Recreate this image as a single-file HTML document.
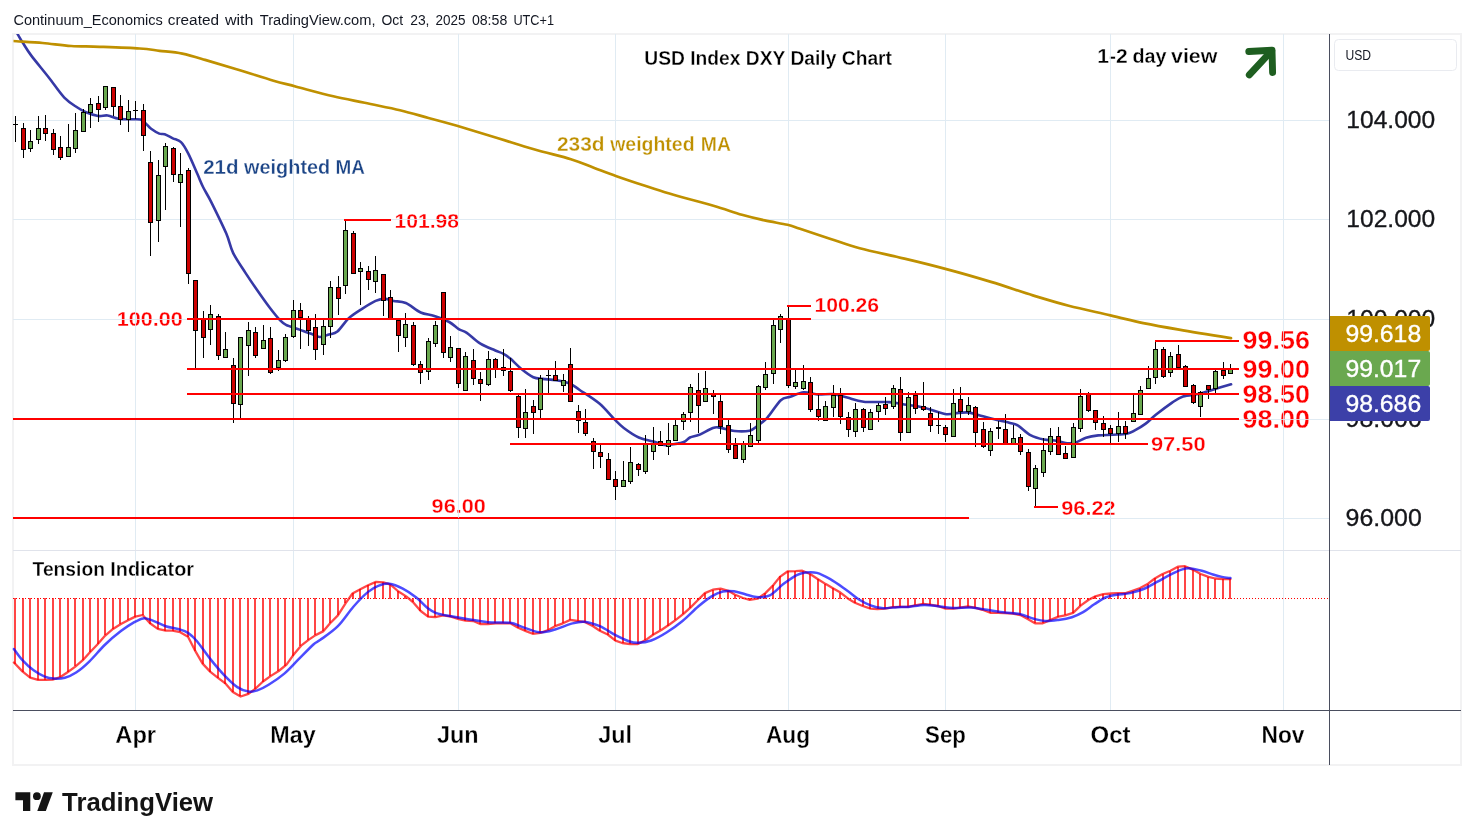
<!DOCTYPE html>
<html><head><meta charset="utf-8"><title>USD Index DXY Daily Chart</title>
<style>
html,body{margin:0;padding:0;background:#fff;}
body{width:1474px;height:840px;overflow:hidden;font-family:"Liberation Sans",sans-serif;}
svg{display:block}
svg text{font-family:"Liberation Sans",sans-serif;}
</style></head><body>
<svg width="1474" height="840" viewBox="0 0 1474 840">
<rect width="1474" height="840" fill="#ffffff"/>
<rect x="13" y="34" width="1448" height="731" fill="none" stroke="#f2f2f3" stroke-width="2" shape-rendering="crispEdges"/>
<g shape-rendering="crispEdges" fill="#e0ebf3">
<rect x="135" y="34" width="1" height="516"/>
<rect x="135" y="551" width="1" height="159"/>
<rect x="293" y="34" width="1" height="516"/>
<rect x="293" y="551" width="1" height="159"/>
<rect x="458" y="34" width="1" height="516"/>
<rect x="458" y="551" width="1" height="159"/>
<rect x="615" y="34" width="1" height="516"/>
<rect x="615" y="551" width="1" height="159"/>
<rect x="788" y="34" width="1" height="516"/>
<rect x="788" y="551" width="1" height="159"/>
<rect x="945" y="34" width="1" height="516"/>
<rect x="945" y="551" width="1" height="159"/>
<rect x="1110" y="34" width="1" height="516"/>
<rect x="1110" y="551" width="1" height="159"/>
<rect x="1283" y="34" width="1" height="516"/>
<rect x="1283" y="551" width="1" height="159"/>
<rect x="13" y="120" width="1316" height="1"/>
<rect x="13" y="219" width="1316" height="1"/>
<rect x="13" y="319" width="1316" height="1"/>
<rect x="13" y="419" width="1316" height="1"/>
<rect x="13" y="518" width="1316" height="1"/>
</g>
<rect x="13" y="550" width="1448" height="1" fill="#e0e3eb" shape-rendering="crispEdges"/>
<text x="1346.3" y="127.9" font-size="24" font-weight="normal" fill="#15161a" text-anchor="start" textLength="88.9" lengthAdjust="spacingAndGlyphs" stroke="#15161a" stroke-width="0.3">104.000</text>
<text x="1346.3" y="226.9" font-size="24" font-weight="normal" fill="#15161a" text-anchor="start" textLength="88.9" lengthAdjust="spacingAndGlyphs" stroke="#15161a" stroke-width="0.3">102.000</text>
<text x="1346.3" y="326.9" font-size="24" font-weight="normal" fill="#15161a" text-anchor="start" textLength="88.9" lengthAdjust="spacingAndGlyphs" stroke="#15161a" stroke-width="0.3">100.000</text>
<text x="1345.6" y="426.9" font-size="24" font-weight="normal" fill="#15161a" text-anchor="start" textLength="76.2" lengthAdjust="spacingAndGlyphs" stroke="#15161a" stroke-width="0.3">98.000</text>
<text x="1345.6" y="525.9" font-size="24" font-weight="normal" fill="#15161a" text-anchor="start" textLength="76.2" lengthAdjust="spacingAndGlyphs" stroke="#15161a" stroke-width="0.3">96.000</text>
<clipPath id="cp2"><rect x="13.5" y="34" width="1316" height="516"/></clipPath>
<clipPath id="cp"><rect x="13" y="34" width="1316" height="516"/></clipPath>
<path d="M17.7,34.3C18.6,35.7 20.5,39.2 22.8,42.8C25.1,46.3 27.0,49.9 31.3,55.6C35.6,61.3 42.9,70.0 48.4,77.0C53.9,84.0 59.4,92.5 64.3,97.6C69.2,102.7 74.2,105.3 77.8,107.8C81.4,110.2 82.6,110.9 86.0,112.3C89.4,113.7 94.6,115.5 98.2,116.0C101.8,116.5 104.3,115.0 107.7,115.5C111.1,116.0 114.4,118.1 118.5,118.7C122.6,119.3 128.5,119.2 132.1,119.3C135.7,119.4 138.0,118.9 140.3,119.6C142.6,120.3 143.9,121.9 145.7,123.4C147.5,124.9 148.8,127.1 151.1,128.8C153.4,130.5 157.0,132.7 159.3,133.6C161.6,134.5 162.4,133.5 164.7,134.3C166.9,135.1 170.1,137.0 172.8,138.3C175.5,139.6 178.4,139.6 181.0,142.1C183.6,144.6 185.6,148.3 188.3,153.6C191.0,158.8 194.7,167.9 197.2,173.6C199.7,179.2 200.9,182.7 203.3,187.5C205.7,192.3 207.6,194.7 211.4,202.4C215.2,210.1 222.7,225.2 226.3,233.6C229.9,242.0 229.9,246.4 233.1,252.9C236.3,259.4 241.5,266.6 245.3,272.6C249.2,278.6 252.1,282.9 256.2,288.8C260.3,294.7 265.9,302.7 269.8,307.8C273.7,312.9 276.6,316.6 279.3,319.4C282.0,322.2 282.6,323.1 286.0,324.8C289.4,326.5 295.5,328.1 299.6,329.6C303.7,331.1 307.1,332.4 310.5,333.6C313.9,334.8 316.7,336.9 319.8,337.0C322.9,337.1 326.1,335.4 329.0,334.5C331.9,333.6 334.1,334.2 337.4,331.5C340.6,328.8 344.6,322.1 348.5,318.5C352.4,314.9 356.2,312.6 360.7,309.7C365.2,306.8 371.5,302.7 375.6,300.9C379.7,299.1 382.1,298.9 385.1,298.9C388.1,298.9 390.2,300.2 393.6,300.9C397.1,301.6 401.3,301.1 405.8,303.0C410.3,304.9 415.9,310.4 420.7,312.5C425.4,314.6 429.6,314.3 434.3,315.9C439.1,317.5 445.1,319.8 449.2,322.0C453.3,324.2 455.8,327.3 458.7,329.1C461.6,330.9 463.2,330.4 466.8,332.8C470.4,335.2 475.6,340.8 480.4,343.7C485.1,346.6 491.4,348.8 495.3,350.5C499.2,352.2 501.0,352.4 503.5,353.8C506.0,355.2 507.4,356.1 510.3,358.6C513.2,361.1 517.3,365.7 521.1,368.8C524.9,371.9 529.7,375.5 533.3,377.2C536.9,378.9 538.9,378.4 542.8,378.9C546.6,379.4 551.9,379.5 556.4,380.3C560.9,381.1 566.1,382.1 570.0,383.7C573.9,385.3 574.8,386.7 579.7,390.0C584.6,393.3 593.6,398.7 599.4,403.6C605.2,408.5 610.2,415.1 614.3,419.2C618.4,423.3 619.7,424.9 623.8,428.0C627.9,431.1 633.8,435.2 638.8,437.5C643.8,439.8 649.8,440.4 653.7,441.6C657.6,442.8 659.6,443.9 662.0,444.5C664.4,445.1 664.6,445.4 668.1,445.0C671.6,444.6 679.5,443.6 683.1,442.3C686.7,441.1 687.2,438.8 689.9,437.5C692.6,436.2 695.5,436.4 699.3,434.8C703.1,433.2 709.5,429.2 712.9,428.0C716.3,426.8 716.1,427.1 719.7,427.6C723.3,428.1 729.6,430.5 734.6,431.0C739.6,431.5 746.0,431.4 749.6,430.7C753.2,430.0 753.4,428.8 756.3,426.7C759.2,424.6 763.1,422.2 767.2,417.8C771.3,413.4 776.9,403.7 780.8,400.2C784.6,396.7 786.5,398.1 790.3,396.8C794.1,395.5 799.3,392.7 803.8,392.3C808.3,391.9 812.4,394.2 817.4,394.5C822.4,394.8 828.7,393.6 833.7,394.1C838.7,394.6 842.2,396.2 847.2,397.5C852.2,398.8 856.6,400.9 863.6,401.7C870.6,402.5 882.5,401.6 889.3,402.1C896.1,402.6 898.6,403.6 904.3,404.5C910.0,405.4 916.5,405.9 923.3,407.5C930.1,409.1 939.1,413.1 945.0,414.0C950.9,414.9 954.4,413.1 958.5,412.9C962.6,412.7 965.3,412.0 969.4,412.6C973.5,413.2 978.0,415.0 983.0,416.3C988.0,417.6 994.8,419.3 999.3,420.4C1003.8,421.5 1006.9,422.0 1010.0,422.9C1013.1,423.8 1014.7,423.6 1018.1,425.6C1021.5,427.6 1026.1,432.8 1030.4,435.1C1034.7,437.4 1039.8,438.7 1043.9,439.6C1048.0,440.5 1051.0,439.9 1054.8,440.5C1058.6,441.1 1063.6,442.8 1067.0,443.2C1070.4,443.6 1071.9,443.5 1075.1,442.6C1078.3,441.7 1082.2,439.0 1086.0,437.8C1089.8,436.6 1093.7,435.9 1098.2,435.4C1102.7,434.9 1108.3,435.0 1113.1,434.7C1117.8,434.4 1123.1,434.4 1126.7,433.7C1130.3,433.0 1131.6,432.1 1134.8,430.4C1138.0,428.7 1142.2,426.2 1145.7,423.6C1149.2,421.0 1151.4,418.3 1155.8,414.8C1160.2,411.3 1167.6,405.7 1172.1,402.6C1176.6,399.6 1178.5,398.0 1183.0,396.5C1187.5,395.0 1194.3,394.9 1199.3,393.8C1204.3,392.7 1207.5,391.3 1212.8,389.7C1218.1,388.1 1228.0,385.2 1231.1,384.3" fill="none" stroke="#3639a6" stroke-width="2.6" stroke-linecap="round" stroke-linejoin="round" clip-path="url(#cp)"/>
<path d="M12.8,41.0C17.8,41.4 33.0,42.2 42.7,43.0C52.4,43.9 61.7,45.3 71.2,46.0C80.7,46.6 88.3,46.3 99.7,46.8C111.1,47.2 129.6,47.8 139.6,48.5C149.6,49.1 152.4,49.9 159.5,50.8C166.6,51.6 174.7,52.1 182.3,53.6C189.9,55.2 196.1,57.2 205.1,59.9C214.1,62.5 225.1,65.8 236.5,69.2C247.9,72.7 263.5,77.8 273.5,80.7C283.5,83.6 286.3,84.0 296.3,86.7C306.3,89.3 321.9,93.6 333.3,96.3C344.7,99.0 353.6,100.5 364.7,102.8C375.8,105.2 389.4,107.7 400.0,110.2C410.6,112.8 419.0,115.4 428.5,118.0C438.0,120.5 445.1,122.4 457.0,125.8C468.9,129.3 486.9,134.8 499.7,138.8C512.5,142.7 522.0,145.8 533.9,149.2C545.8,152.7 560.9,156.2 570.9,159.2C580.9,162.3 586.1,164.9 593.7,167.8C601.3,170.6 608.0,173.2 616.5,176.2C625.0,179.2 635.5,182.7 645.0,185.8C654.5,188.8 662.1,191.5 673.5,194.8C684.9,198.2 702.0,202.3 713.4,205.7C724.8,209.0 733.3,212.3 741.9,214.8C750.5,217.2 757.1,218.8 764.7,220.4C772.3,222.1 781.6,223.4 787.5,224.8C793.4,226.1 792.9,226.4 800.0,228.8C807.1,231.1 819.9,235.4 829.9,238.7C839.9,241.9 847.3,244.8 859.7,248.2C872.1,251.5 890.1,255.1 904.5,258.6C918.9,262.0 931.9,265.2 946.3,269.1C960.7,272.9 976.6,277.5 991.0,281.9C1005.4,286.2 1019.8,291.4 1032.8,295.4C1045.8,299.3 1055.8,302.4 1068.7,305.8C1081.6,309.1 1098.0,312.5 1110.4,315.4C1122.8,318.2 1131.8,320.7 1143.3,323.1C1154.8,325.4 1164.5,327.1 1179.1,329.6C1193.7,332.2 1222.3,336.8 1231.0,338.2" fill="none" stroke="#bf9000" stroke-width="2.7" stroke-linecap="round" stroke-linejoin="round" clip-path="url(#cp2)"/>
<g shape-rendering="crispEdges">
<rect x="15" y="116" width="1" height="26" fill="#000"/>
<rect x="13" y="124" width="5" height="1" fill="#000"/>
<rect x="23" y="123" width="1" height="35" fill="#000"/>
<rect x="21" y="128" width="5" height="22" fill="#000"/>
<rect x="22" y="129" width="3" height="20" fill="#cc0000"/>
<rect x="30" y="130" width="1" height="22" fill="#000"/>
<rect x="28" y="141" width="5" height="8" fill="#000"/>
<rect x="29" y="142" width="3" height="6" fill="#6aa84f"/>
<rect x="38" y="116" width="1" height="28" fill="#000"/>
<rect x="36" y="128" width="5" height="12" fill="#000"/>
<rect x="37" y="129" width="3" height="10" fill="#6aa84f"/>
<rect x="45" y="115" width="1" height="26" fill="#000"/>
<rect x="43" y="128" width="5" height="6" fill="#000"/>
<rect x="44" y="129" width="3" height="4" fill="#cc0000"/>
<rect x="53" y="129" width="1" height="26" fill="#000"/>
<rect x="51" y="133" width="5" height="17" fill="#000"/>
<rect x="52" y="134" width="3" height="15" fill="#cc0000"/>
<rect x="60" y="136" width="1" height="24" fill="#000"/>
<rect x="58" y="147" width="5" height="11" fill="#000"/>
<rect x="59" y="148" width="3" height="9" fill="#cc0000"/>
<rect x="68" y="124" width="1" height="33" fill="#000"/>
<rect x="66" y="147" width="5" height="10" fill="#000"/>
<rect x="67" y="148" width="3" height="8" fill="#6aa84f"/>
<rect x="75" y="113" width="1" height="40" fill="#000"/>
<rect x="73" y="130" width="5" height="19" fill="#000"/>
<rect x="74" y="131" width="3" height="17" fill="#6aa84f"/>
<rect x="83" y="109" width="1" height="23" fill="#000"/>
<rect x="81" y="112" width="5" height="20" fill="#000"/>
<rect x="82" y="113" width="3" height="18" fill="#6aa84f"/>
<rect x="90" y="98" width="1" height="30" fill="#000"/>
<rect x="88" y="104" width="5" height="9" fill="#000"/>
<rect x="89" y="105" width="3" height="7" fill="#6aa84f"/>
<rect x="98" y="96" width="1" height="26" fill="#000"/>
<rect x="96" y="103" width="5" height="7" fill="#000"/>
<rect x="97" y="104" width="3" height="5" fill="#cc0000"/>
<rect x="105" y="86" width="1" height="24" fill="#000"/>
<rect x="103" y="86" width="5" height="22" fill="#000"/>
<rect x="104" y="87" width="3" height="20" fill="#6aa84f"/>
<rect x="113" y="87" width="1" height="29" fill="#000"/>
<rect x="111" y="87" width="5" height="20" fill="#000"/>
<rect x="112" y="88" width="3" height="18" fill="#cc0000"/>
<rect x="120" y="95" width="1" height="30" fill="#000"/>
<rect x="118" y="106" width="5" height="14" fill="#000"/>
<rect x="119" y="107" width="3" height="12" fill="#cc0000"/>
<rect x="128" y="100" width="1" height="32" fill="#000"/>
<rect x="126" y="111" width="5" height="9" fill="#000"/>
<rect x="127" y="112" width="3" height="7" fill="#6aa84f"/>
<rect x="135" y="101" width="1" height="18" fill="#000"/>
<rect x="133" y="110" width="5" height="1" fill="#000"/>
<rect x="143" y="104" width="1" height="47" fill="#000"/>
<rect x="141" y="110" width="5" height="26" fill="#000"/>
<rect x="142" y="111" width="3" height="24" fill="#cc0000"/>
<rect x="150" y="151" width="1" height="105" fill="#000"/>
<rect x="148" y="162" width="5" height="61" fill="#000"/>
<rect x="149" y="163" width="3" height="59" fill="#cc0000"/>
<rect x="158" y="160" width="1" height="82" fill="#000"/>
<rect x="156" y="175" width="5" height="46" fill="#000"/>
<rect x="157" y="176" width="3" height="44" fill="#6aa84f"/>
<rect x="165" y="143" width="1" height="67" fill="#000"/>
<rect x="163" y="146" width="5" height="21" fill="#000"/>
<rect x="164" y="147" width="3" height="19" fill="#6aa84f"/>
<rect x="173" y="147" width="1" height="35" fill="#000"/>
<rect x="171" y="148" width="5" height="27" fill="#000"/>
<rect x="172" y="149" width="3" height="25" fill="#cc0000"/>
<rect x="180" y="153" width="1" height="74" fill="#000"/>
<rect x="178" y="174" width="5" height="9" fill="#000"/>
<rect x="179" y="175" width="3" height="7" fill="#6aa84f"/>
<rect x="188" y="168" width="1" height="116" fill="#000"/>
<rect x="186" y="170" width="5" height="104" fill="#000"/>
<rect x="187" y="171" width="3" height="102" fill="#cc0000"/>
<rect x="195" y="280" width="1" height="89" fill="#000"/>
<rect x="193" y="280" width="5" height="51" fill="#000"/>
<rect x="194" y="281" width="3" height="49" fill="#cc0000"/>
<rect x="203" y="311" width="1" height="47" fill="#000"/>
<rect x="201" y="318" width="5" height="20" fill="#000"/>
<rect x="202" y="319" width="3" height="18" fill="#cc0000"/>
<rect x="210" y="305" width="1" height="40" fill="#000"/>
<rect x="208" y="314" width="5" height="16" fill="#000"/>
<rect x="209" y="315" width="3" height="14" fill="#6aa84f"/>
<rect x="218" y="314" width="1" height="46" fill="#000"/>
<rect x="216" y="316" width="5" height="40" fill="#000"/>
<rect x="217" y="317" width="3" height="38" fill="#cc0000"/>
<rect x="225" y="332" width="1" height="26" fill="#000"/>
<rect x="223" y="349" width="5" height="9" fill="#000"/>
<rect x="224" y="350" width="3" height="7" fill="#6aa84f"/>
<rect x="233" y="358" width="1" height="65" fill="#000"/>
<rect x="231" y="365" width="5" height="39" fill="#000"/>
<rect x="232" y="366" width="3" height="37" fill="#cc0000"/>
<rect x="240" y="337" width="1" height="81" fill="#000"/>
<rect x="238" y="337" width="5" height="68" fill="#000"/>
<rect x="239" y="338" width="3" height="66" fill="#6aa84f"/>
<rect x="248" y="322" width="1" height="54" fill="#000"/>
<rect x="246" y="330" width="5" height="16" fill="#000"/>
<rect x="247" y="331" width="3" height="14" fill="#6aa84f"/>
<rect x="255" y="327" width="1" height="31" fill="#000"/>
<rect x="253" y="332" width="5" height="24" fill="#000"/>
<rect x="254" y="333" width="3" height="22" fill="#cc0000"/>
<rect x="263" y="325" width="1" height="24" fill="#000"/>
<rect x="261" y="340" width="5" height="9" fill="#000"/>
<rect x="262" y="341" width="3" height="7" fill="#6aa84f"/>
<rect x="270" y="327" width="1" height="47" fill="#000"/>
<rect x="268" y="338" width="5" height="35" fill="#000"/>
<rect x="269" y="339" width="3" height="33" fill="#cc0000"/>
<rect x="278" y="350" width="1" height="21" fill="#000"/>
<rect x="276" y="360" width="5" height="8" fill="#000"/>
<rect x="277" y="361" width="3" height="6" fill="#6aa84f"/>
<rect x="285" y="334" width="1" height="28" fill="#000"/>
<rect x="283" y="337" width="5" height="24" fill="#000"/>
<rect x="284" y="338" width="3" height="22" fill="#6aa84f"/>
<rect x="293" y="300" width="1" height="38" fill="#000"/>
<rect x="291" y="310" width="5" height="27" fill="#000"/>
<rect x="292" y="311" width="3" height="25" fill="#6aa84f"/>
<rect x="300" y="303" width="1" height="46" fill="#000"/>
<rect x="298" y="310" width="5" height="8" fill="#000"/>
<rect x="299" y="311" width="3" height="6" fill="#cc0000"/>
<rect x="308" y="316" width="1" height="30" fill="#000"/>
<rect x="306" y="319" width="5" height="12" fill="#000"/>
<rect x="307" y="320" width="3" height="10" fill="#cc0000"/>
<rect x="315" y="314" width="1" height="46" fill="#000"/>
<rect x="313" y="327" width="5" height="23" fill="#000"/>
<rect x="314" y="328" width="3" height="21" fill="#cc0000"/>
<rect x="323" y="320" width="1" height="35" fill="#000"/>
<rect x="321" y="326" width="5" height="19" fill="#000"/>
<rect x="322" y="327" width="3" height="17" fill="#6aa84f"/>
<rect x="330" y="281" width="1" height="57" fill="#000"/>
<rect x="328" y="287" width="5" height="40" fill="#000"/>
<rect x="329" y="288" width="3" height="38" fill="#6aa84f"/>
<rect x="338" y="276" width="1" height="39" fill="#000"/>
<rect x="336" y="287" width="5" height="12" fill="#000"/>
<rect x="337" y="288" width="3" height="10" fill="#cc0000"/>
<rect x="345" y="220" width="1" height="74" fill="#000"/>
<rect x="343" y="230" width="5" height="56" fill="#000"/>
<rect x="344" y="231" width="3" height="54" fill="#6aa84f"/>
<rect x="353" y="231" width="1" height="43" fill="#000"/>
<rect x="351" y="233" width="5" height="41" fill="#000"/>
<rect x="352" y="234" width="3" height="39" fill="#cc0000"/>
<rect x="360" y="262" width="1" height="43" fill="#000"/>
<rect x="358" y="268" width="5" height="4" fill="#000"/>
<rect x="359" y="269" width="3" height="2" fill="#6aa84f"/>
<rect x="368" y="266" width="1" height="24" fill="#000"/>
<rect x="366" y="271" width="5" height="9" fill="#000"/>
<rect x="367" y="272" width="3" height="7" fill="#cc0000"/>
<rect x="375" y="256" width="1" height="37" fill="#000"/>
<rect x="373" y="270" width="5" height="12" fill="#000"/>
<rect x="374" y="271" width="3" height="10" fill="#6aa84f"/>
<rect x="383" y="274" width="1" height="42" fill="#000"/>
<rect x="381" y="274" width="5" height="27" fill="#000"/>
<rect x="382" y="275" width="3" height="25" fill="#cc0000"/>
<rect x="390" y="290" width="1" height="29" fill="#000"/>
<rect x="388" y="297" width="5" height="22" fill="#000"/>
<rect x="389" y="298" width="3" height="20" fill="#cc0000"/>
<rect x="398" y="319" width="1" height="33" fill="#000"/>
<rect x="396" y="320" width="5" height="16" fill="#000"/>
<rect x="397" y="321" width="3" height="14" fill="#cc0000"/>
<rect x="405" y="313" width="1" height="34" fill="#000"/>
<rect x="403" y="324" width="5" height="14" fill="#000"/>
<rect x="404" y="325" width="3" height="12" fill="#6aa84f"/>
<rect x="413" y="322" width="1" height="44" fill="#000"/>
<rect x="411" y="325" width="5" height="40" fill="#000"/>
<rect x="412" y="326" width="3" height="38" fill="#cc0000"/>
<rect x="420" y="361" width="1" height="23" fill="#000"/>
<rect x="418" y="364" width="5" height="9" fill="#000"/>
<rect x="419" y="365" width="3" height="7" fill="#cc0000"/>
<rect x="428" y="338" width="1" height="42" fill="#000"/>
<rect x="426" y="341" width="5" height="31" fill="#000"/>
<rect x="427" y="342" width="3" height="29" fill="#6aa84f"/>
<rect x="435" y="321" width="1" height="26" fill="#000"/>
<rect x="433" y="325" width="5" height="19" fill="#000"/>
<rect x="434" y="326" width="3" height="17" fill="#6aa84f"/>
<rect x="443" y="292" width="1" height="66" fill="#000"/>
<rect x="441" y="292" width="5" height="61" fill="#000"/>
<rect x="442" y="293" width="3" height="59" fill="#cc0000"/>
<rect x="450" y="336" width="1" height="26" fill="#000"/>
<rect x="448" y="347" width="5" height="11" fill="#000"/>
<rect x="449" y="348" width="3" height="9" fill="#6aa84f"/>
<rect x="458" y="348" width="1" height="40" fill="#000"/>
<rect x="456" y="348" width="5" height="36" fill="#000"/>
<rect x="457" y="349" width="3" height="34" fill="#cc0000"/>
<rect x="465" y="352" width="1" height="39" fill="#000"/>
<rect x="463" y="356" width="5" height="35" fill="#000"/>
<rect x="464" y="357" width="3" height="33" fill="#6aa84f"/>
<rect x="473" y="349" width="1" height="36" fill="#000"/>
<rect x="471" y="360" width="5" height="19" fill="#000"/>
<rect x="472" y="361" width="3" height="17" fill="#cc0000"/>
<rect x="480" y="372" width="1" height="29" fill="#000"/>
<rect x="478" y="379" width="5" height="5" fill="#000"/>
<rect x="479" y="380" width="3" height="3" fill="#cc0000"/>
<rect x="488" y="351" width="1" height="35" fill="#000"/>
<rect x="486" y="359" width="5" height="26" fill="#000"/>
<rect x="487" y="360" width="3" height="24" fill="#6aa84f"/>
<rect x="495" y="358" width="1" height="20" fill="#000"/>
<rect x="493" y="359" width="5" height="10" fill="#000"/>
<rect x="494" y="360" width="3" height="8" fill="#cc0000"/>
<rect x="503" y="349" width="1" height="27" fill="#000"/>
<rect x="501" y="367" width="5" height="4" fill="#000"/>
<rect x="502" y="368" width="3" height="2" fill="#cc0000"/>
<rect x="510" y="358" width="1" height="34" fill="#000"/>
<rect x="508" y="371" width="5" height="20" fill="#000"/>
<rect x="509" y="372" width="3" height="18" fill="#cc0000"/>
<rect x="518" y="395" width="1" height="43" fill="#000"/>
<rect x="516" y="396" width="5" height="32" fill="#000"/>
<rect x="517" y="397" width="3" height="30" fill="#cc0000"/>
<rect x="525" y="389" width="1" height="49" fill="#000"/>
<rect x="523" y="412" width="5" height="17" fill="#000"/>
<rect x="524" y="413" width="3" height="15" fill="#6aa84f"/>
<rect x="533" y="400" width="1" height="34" fill="#000"/>
<rect x="531" y="406" width="5" height="7" fill="#000"/>
<rect x="532" y="407" width="3" height="5" fill="#cc0000"/>
<rect x="540" y="375" width="1" height="43" fill="#000"/>
<rect x="538" y="378" width="5" height="32" fill="#000"/>
<rect x="539" y="379" width="3" height="30" fill="#6aa84f"/>
<rect x="548" y="370" width="1" height="23" fill="#000"/>
<rect x="546" y="375" width="5" height="1" fill="#000"/>
<rect x="555" y="361" width="1" height="20" fill="#000"/>
<rect x="553" y="375" width="5" height="6" fill="#000"/>
<rect x="554" y="376" width="3" height="4" fill="#cc0000"/>
<rect x="563" y="374" width="1" height="18" fill="#000"/>
<rect x="561" y="380" width="5" height="6" fill="#000"/>
<rect x="562" y="381" width="3" height="4" fill="#6aa84f"/>
<rect x="570" y="348" width="1" height="54" fill="#000"/>
<rect x="568" y="364" width="5" height="38" fill="#000"/>
<rect x="569" y="365" width="3" height="36" fill="#cc0000"/>
<rect x="578" y="405" width="1" height="28" fill="#000"/>
<rect x="576" y="411" width="5" height="10" fill="#000"/>
<rect x="577" y="412" width="3" height="8" fill="#cc0000"/>
<rect x="585" y="409" width="1" height="27" fill="#000"/>
<rect x="583" y="422" width="5" height="12" fill="#000"/>
<rect x="584" y="423" width="3" height="10" fill="#cc0000"/>
<rect x="593" y="438" width="1" height="31" fill="#000"/>
<rect x="591" y="441" width="5" height="11" fill="#000"/>
<rect x="592" y="442" width="3" height="9" fill="#cc0000"/>
<rect x="600" y="445" width="1" height="23" fill="#000"/>
<rect x="598" y="452" width="5" height="5" fill="#000"/>
<rect x="599" y="453" width="3" height="3" fill="#cc0000"/>
<rect x="608" y="453" width="1" height="27" fill="#000"/>
<rect x="606" y="459" width="5" height="21" fill="#000"/>
<rect x="607" y="460" width="3" height="19" fill="#cc0000"/>
<rect x="615" y="471" width="1" height="29" fill="#000"/>
<rect x="613" y="479" width="5" height="8" fill="#000"/>
<rect x="614" y="480" width="3" height="6" fill="#cc0000"/>
<rect x="623" y="461" width="1" height="26" fill="#000"/>
<rect x="621" y="480" width="5" height="7" fill="#000"/>
<rect x="622" y="481" width="3" height="5" fill="#6aa84f"/>
<rect x="630" y="447" width="1" height="37" fill="#000"/>
<rect x="628" y="462" width="5" height="20" fill="#000"/>
<rect x="629" y="463" width="3" height="18" fill="#6aa84f"/>
<rect x="638" y="463" width="1" height="13" fill="#000"/>
<rect x="636" y="464" width="5" height="6" fill="#000"/>
<rect x="637" y="465" width="3" height="4" fill="#cc0000"/>
<rect x="645" y="435" width="1" height="39" fill="#000"/>
<rect x="643" y="444" width="5" height="28" fill="#000"/>
<rect x="644" y="445" width="3" height="26" fill="#6aa84f"/>
<rect x="653" y="427" width="1" height="33" fill="#000"/>
<rect x="651" y="444" width="5" height="8" fill="#000"/>
<rect x="652" y="445" width="3" height="6" fill="#6aa84f"/>
<rect x="660" y="431" width="1" height="15" fill="#000"/>
<rect x="658" y="441" width="5" height="5" fill="#000"/>
<rect x="659" y="442" width="3" height="3" fill="#cc0000"/>
<rect x="668" y="423" width="1" height="32" fill="#000"/>
<rect x="666" y="440" width="5" height="7" fill="#000"/>
<rect x="667" y="441" width="3" height="5" fill="#6aa84f"/>
<rect x="675" y="420" width="1" height="21" fill="#000"/>
<rect x="673" y="425" width="5" height="16" fill="#000"/>
<rect x="674" y="426" width="3" height="14" fill="#6aa84f"/>
<rect x="683" y="412" width="1" height="18" fill="#000"/>
<rect x="681" y="414" width="5" height="8" fill="#000"/>
<rect x="682" y="415" width="3" height="6" fill="#6aa84f"/>
<rect x="690" y="384" width="1" height="38" fill="#000"/>
<rect x="688" y="387" width="5" height="26" fill="#000"/>
<rect x="689" y="388" width="3" height="24" fill="#6aa84f"/>
<rect x="698" y="373" width="1" height="60" fill="#000"/>
<rect x="696" y="390" width="5" height="16" fill="#000"/>
<rect x="697" y="391" width="3" height="14" fill="#cc0000"/>
<rect x="705" y="371" width="1" height="31" fill="#000"/>
<rect x="703" y="388" width="5" height="14" fill="#000"/>
<rect x="704" y="389" width="3" height="12" fill="#6aa84f"/>
<rect x="713" y="390" width="1" height="24" fill="#000"/>
<rect x="711" y="394" width="5" height="3" fill="#000"/>
<rect x="712" y="395" width="3" height="1" fill="#cc0000"/>
<rect x="720" y="395" width="1" height="39" fill="#000"/>
<rect x="718" y="401" width="5" height="26" fill="#000"/>
<rect x="719" y="402" width="3" height="24" fill="#cc0000"/>
<rect x="728" y="420" width="1" height="33" fill="#000"/>
<rect x="726" y="425" width="5" height="25" fill="#000"/>
<rect x="727" y="426" width="3" height="23" fill="#cc0000"/>
<rect x="735" y="438" width="1" height="21" fill="#000"/>
<rect x="733" y="445" width="5" height="14" fill="#000"/>
<rect x="734" y="446" width="3" height="12" fill="#cc0000"/>
<rect x="743" y="441" width="1" height="22" fill="#000"/>
<rect x="741" y="444" width="5" height="16" fill="#000"/>
<rect x="742" y="445" width="3" height="14" fill="#6aa84f"/>
<rect x="750" y="423" width="1" height="24" fill="#000"/>
<rect x="748" y="435" width="5" height="12" fill="#000"/>
<rect x="749" y="436" width="3" height="10" fill="#6aa84f"/>
<rect x="758" y="385" width="1" height="58" fill="#000"/>
<rect x="756" y="386" width="5" height="55" fill="#000"/>
<rect x="757" y="387" width="3" height="53" fill="#6aa84f"/>
<rect x="765" y="362" width="1" height="28" fill="#000"/>
<rect x="763" y="374" width="5" height="14" fill="#000"/>
<rect x="764" y="375" width="3" height="12" fill="#6aa84f"/>
<rect x="773" y="320" width="1" height="64" fill="#000"/>
<rect x="771" y="325" width="5" height="49" fill="#000"/>
<rect x="772" y="326" width="3" height="47" fill="#6aa84f"/>
<rect x="780" y="314" width="1" height="29" fill="#000"/>
<rect x="778" y="316" width="5" height="14" fill="#000"/>
<rect x="779" y="317" width="3" height="12" fill="#6aa84f"/>
<rect x="788" y="306" width="1" height="82" fill="#000"/>
<rect x="786" y="319" width="5" height="67" fill="#000"/>
<rect x="787" y="320" width="3" height="65" fill="#cc0000"/>
<rect x="795" y="369" width="1" height="20" fill="#000"/>
<rect x="793" y="382" width="5" height="5" fill="#000"/>
<rect x="794" y="383" width="3" height="3" fill="#6aa84f"/>
<rect x="803" y="365" width="1" height="25" fill="#000"/>
<rect x="801" y="381" width="5" height="8" fill="#000"/>
<rect x="802" y="382" width="3" height="6" fill="#6aa84f"/>
<rect x="810" y="377" width="1" height="35" fill="#000"/>
<rect x="808" y="382" width="5" height="28" fill="#000"/>
<rect x="809" y="383" width="3" height="26" fill="#cc0000"/>
<rect x="818" y="395" width="1" height="26" fill="#000"/>
<rect x="816" y="409" width="5" height="8" fill="#000"/>
<rect x="817" y="410" width="3" height="6" fill="#cc0000"/>
<rect x="825" y="401" width="1" height="20" fill="#000"/>
<rect x="823" y="406" width="5" height="15" fill="#000"/>
<rect x="824" y="407" width="3" height="13" fill="#6aa84f"/>
<rect x="833" y="385" width="1" height="32" fill="#000"/>
<rect x="831" y="395" width="5" height="13" fill="#000"/>
<rect x="832" y="396" width="3" height="11" fill="#6aa84f"/>
<rect x="840" y="388" width="1" height="36" fill="#000"/>
<rect x="838" y="395" width="5" height="22" fill="#000"/>
<rect x="839" y="396" width="3" height="20" fill="#cc0000"/>
<rect x="848" y="412" width="1" height="25" fill="#000"/>
<rect x="846" y="417" width="5" height="13" fill="#000"/>
<rect x="847" y="418" width="3" height="11" fill="#cc0000"/>
<rect x="855" y="403" width="1" height="34" fill="#000"/>
<rect x="853" y="409" width="5" height="23" fill="#000"/>
<rect x="854" y="410" width="3" height="21" fill="#6aa84f"/>
<rect x="863" y="408" width="1" height="24" fill="#000"/>
<rect x="861" y="409" width="5" height="19" fill="#000"/>
<rect x="862" y="410" width="3" height="17" fill="#cc0000"/>
<rect x="870" y="409" width="1" height="21" fill="#000"/>
<rect x="868" y="412" width="5" height="18" fill="#000"/>
<rect x="869" y="413" width="3" height="16" fill="#6aa84f"/>
<rect x="878" y="403" width="1" height="19" fill="#000"/>
<rect x="876" y="405" width="5" height="7" fill="#000"/>
<rect x="877" y="406" width="3" height="5" fill="#6aa84f"/>
<rect x="885" y="397" width="1" height="18" fill="#000"/>
<rect x="883" y="404" width="5" height="5" fill="#000"/>
<rect x="884" y="405" width="3" height="3" fill="#cc0000"/>
<rect x="893" y="385" width="1" height="24" fill="#000"/>
<rect x="891" y="388" width="5" height="19" fill="#000"/>
<rect x="892" y="389" width="3" height="17" fill="#6aa84f"/>
<rect x="900" y="377" width="1" height="64" fill="#000"/>
<rect x="898" y="389" width="5" height="44" fill="#000"/>
<rect x="899" y="390" width="3" height="42" fill="#cc0000"/>
<rect x="908" y="392" width="1" height="41" fill="#000"/>
<rect x="906" y="397" width="5" height="36" fill="#000"/>
<rect x="907" y="398" width="3" height="34" fill="#6aa84f"/>
<rect x="915" y="391" width="1" height="23" fill="#000"/>
<rect x="913" y="395" width="5" height="14" fill="#000"/>
<rect x="914" y="396" width="3" height="12" fill="#cc0000"/>
<rect x="923" y="382" width="1" height="29" fill="#000"/>
<rect x="921" y="406" width="5" height="4" fill="#000"/>
<rect x="922" y="407" width="3" height="2" fill="#cc0000"/>
<rect x="930" y="407" width="1" height="25" fill="#000"/>
<rect x="928" y="413" width="5" height="13" fill="#000"/>
<rect x="929" y="414" width="3" height="11" fill="#cc0000"/>
<rect x="938" y="412" width="1" height="22" fill="#000"/>
<rect x="936" y="425" width="5" height="1" fill="#000"/>
<rect x="945" y="425" width="1" height="17" fill="#000"/>
<rect x="943" y="427" width="5" height="8" fill="#000"/>
<rect x="944" y="428" width="3" height="6" fill="#cc0000"/>
<rect x="953" y="389" width="1" height="48" fill="#000"/>
<rect x="951" y="403" width="5" height="34" fill="#000"/>
<rect x="952" y="404" width="3" height="32" fill="#6aa84f"/>
<rect x="960" y="387" width="1" height="31" fill="#000"/>
<rect x="958" y="399" width="5" height="13" fill="#000"/>
<rect x="959" y="400" width="3" height="11" fill="#cc0000"/>
<rect x="968" y="397" width="1" height="18" fill="#000"/>
<rect x="966" y="405" width="5" height="7" fill="#000"/>
<rect x="967" y="406" width="3" height="5" fill="#6aa84f"/>
<rect x="975" y="406" width="1" height="41" fill="#000"/>
<rect x="973" y="407" width="5" height="26" fill="#000"/>
<rect x="974" y="408" width="3" height="24" fill="#cc0000"/>
<rect x="983" y="422" width="1" height="26" fill="#000"/>
<rect x="981" y="429" width="5" height="18" fill="#000"/>
<rect x="982" y="430" width="3" height="16" fill="#cc0000"/>
<rect x="990" y="428" width="1" height="28" fill="#000"/>
<rect x="988" y="431" width="5" height="20" fill="#000"/>
<rect x="989" y="432" width="3" height="18" fill="#6aa84f"/>
<rect x="998" y="421" width="1" height="18" fill="#000"/>
<rect x="996" y="427" width="5" height="2" fill="#000"/>
<rect x="1005" y="414" width="1" height="30" fill="#000"/>
<rect x="1003" y="429" width="5" height="15" fill="#000"/>
<rect x="1004" y="430" width="3" height="13" fill="#cc0000"/>
<rect x="1013" y="425" width="1" height="19" fill="#000"/>
<rect x="1011" y="438" width="5" height="6" fill="#000"/>
<rect x="1012" y="439" width="3" height="4" fill="#6aa84f"/>
<rect x="1020" y="434" width="1" height="21" fill="#000"/>
<rect x="1018" y="437" width="5" height="15" fill="#000"/>
<rect x="1019" y="438" width="3" height="13" fill="#cc0000"/>
<rect x="1028" y="449" width="1" height="42" fill="#000"/>
<rect x="1026" y="452" width="5" height="35" fill="#000"/>
<rect x="1027" y="453" width="3" height="33" fill="#cc0000"/>
<rect x="1035" y="465" width="1" height="42" fill="#000"/>
<rect x="1033" y="468" width="5" height="21" fill="#000"/>
<rect x="1034" y="469" width="3" height="19" fill="#6aa84f"/>
<rect x="1043" y="438" width="1" height="39" fill="#000"/>
<rect x="1041" y="450" width="5" height="23" fill="#000"/>
<rect x="1042" y="451" width="3" height="21" fill="#6aa84f"/>
<rect x="1050" y="428" width="1" height="27" fill="#000"/>
<rect x="1048" y="436" width="5" height="16" fill="#000"/>
<rect x="1049" y="437" width="3" height="14" fill="#6aa84f"/>
<rect x="1058" y="427" width="1" height="28" fill="#000"/>
<rect x="1056" y="436" width="5" height="19" fill="#000"/>
<rect x="1057" y="437" width="3" height="17" fill="#cc0000"/>
<rect x="1065" y="446" width="1" height="13" fill="#000"/>
<rect x="1063" y="453" width="5" height="6" fill="#000"/>
<rect x="1064" y="454" width="3" height="4" fill="#cc0000"/>
<rect x="1073" y="423" width="1" height="35" fill="#000"/>
<rect x="1071" y="427" width="5" height="31" fill="#000"/>
<rect x="1072" y="428" width="3" height="29" fill="#6aa84f"/>
<rect x="1080" y="389" width="1" height="43" fill="#000"/>
<rect x="1078" y="396" width="5" height="33" fill="#000"/>
<rect x="1079" y="397" width="3" height="31" fill="#6aa84f"/>
<rect x="1088" y="392" width="1" height="20" fill="#000"/>
<rect x="1086" y="394" width="5" height="17" fill="#000"/>
<rect x="1087" y="395" width="3" height="15" fill="#cc0000"/>
<rect x="1095" y="410" width="1" height="20" fill="#000"/>
<rect x="1093" y="410" width="5" height="13" fill="#000"/>
<rect x="1094" y="411" width="3" height="11" fill="#cc0000"/>
<rect x="1103" y="416" width="1" height="21" fill="#000"/>
<rect x="1101" y="423" width="5" height="7" fill="#000"/>
<rect x="1102" y="424" width="3" height="5" fill="#cc0000"/>
<rect x="1110" y="425" width="1" height="18" fill="#000"/>
<rect x="1108" y="428" width="5" height="6" fill="#000"/>
<rect x="1109" y="429" width="3" height="4" fill="#cc0000"/>
<rect x="1118" y="412" width="1" height="30" fill="#000"/>
<rect x="1116" y="426" width="5" height="8" fill="#000"/>
<rect x="1117" y="427" width="3" height="6" fill="#6aa84f"/>
<rect x="1125" y="421" width="1" height="18" fill="#000"/>
<rect x="1123" y="426" width="5" height="8" fill="#000"/>
<rect x="1124" y="427" width="3" height="6" fill="#cc0000"/>
<rect x="1133" y="395" width="1" height="27" fill="#000"/>
<rect x="1131" y="413" width="5" height="9" fill="#000"/>
<rect x="1132" y="414" width="3" height="7" fill="#6aa84f"/>
<rect x="1140" y="386" width="1" height="29" fill="#000"/>
<rect x="1138" y="390" width="5" height="25" fill="#000"/>
<rect x="1139" y="391" width="3" height="23" fill="#6aa84f"/>
<rect x="1148" y="366" width="1" height="23" fill="#000"/>
<rect x="1146" y="378" width="5" height="11" fill="#000"/>
<rect x="1147" y="379" width="3" height="9" fill="#6aa84f"/>
<rect x="1155" y="341" width="1" height="43" fill="#000"/>
<rect x="1153" y="349" width="5" height="29" fill="#000"/>
<rect x="1154" y="350" width="3" height="27" fill="#6aa84f"/>
<rect x="1163" y="347" width="1" height="31" fill="#000"/>
<rect x="1161" y="349" width="5" height="28" fill="#000"/>
<rect x="1162" y="350" width="3" height="26" fill="#cc0000"/>
<rect x="1170" y="352" width="1" height="25" fill="#000"/>
<rect x="1168" y="356" width="5" height="17" fill="#000"/>
<rect x="1169" y="357" width="3" height="15" fill="#6aa84f"/>
<rect x="1178" y="345" width="1" height="23" fill="#000"/>
<rect x="1176" y="354" width="5" height="14" fill="#000"/>
<rect x="1177" y="355" width="3" height="12" fill="#cc0000"/>
<rect x="1185" y="365" width="1" height="22" fill="#000"/>
<rect x="1183" y="366" width="5" height="21" fill="#000"/>
<rect x="1184" y="367" width="3" height="19" fill="#cc0000"/>
<rect x="1193" y="384" width="1" height="20" fill="#000"/>
<rect x="1191" y="385" width="5" height="18" fill="#000"/>
<rect x="1192" y="386" width="3" height="16" fill="#cc0000"/>
<rect x="1200" y="391" width="1" height="26" fill="#000"/>
<rect x="1198" y="392" width="5" height="15" fill="#000"/>
<rect x="1199" y="393" width="3" height="13" fill="#6aa84f"/>
<rect x="1208" y="385" width="1" height="14" fill="#000"/>
<rect x="1206" y="385" width="5" height="5" fill="#000"/>
<rect x="1207" y="386" width="3" height="3" fill="#cc0000"/>
<rect x="1215" y="370" width="1" height="23" fill="#000"/>
<rect x="1213" y="371" width="5" height="18" fill="#000"/>
<rect x="1214" y="372" width="3" height="16" fill="#6aa84f"/>
<rect x="1223" y="362" width="1" height="17" fill="#000"/>
<rect x="1221" y="370" width="5" height="6" fill="#000"/>
<rect x="1222" y="371" width="3" height="4" fill="#cc0000"/>
<rect x="1230" y="364" width="1" height="10" fill="#000"/>
<rect x="1228" y="369" width="5" height="5" fill="#000"/>
<rect x="1229" y="370" width="3" height="3" fill="#6aa84f"/>
</g>
<g fill="#ff0000" shape-rendering="crispEdges">
<rect x="187" y="318.0" width="624" height="2"/>
<rect x="187" y="368.0" width="1052" height="2"/>
<rect x="187" y="393.0" width="1052" height="2"/>
<rect x="13" y="418.0" width="1226" height="2"/>
<rect x="510" y="443.0" width="638" height="2"/>
<rect x="13" y="516.5" width="956" height="2"/>
<rect x="1155" y="339.5" width="84" height="2"/>
<rect x="344" y="219.0" width="47" height="2"/>
<rect x="787" y="304.5" width="24" height="2"/>
<rect x="1034" y="506.0" width="24" height="2"/>
</g>
<text x="394.4" y="228.4" font-size="20.3" font-weight="bold" fill="#ff0000" text-anchor="start" textLength="64.7" lengthAdjust="spacingAndGlyphs" stroke="#fff" stroke-width="0.3" paint-order="fill stroke">101.98</text>
<text x="814.4" y="311.6" font-size="20.3" font-weight="bold" fill="#ff0000" text-anchor="start" textLength="64.7" lengthAdjust="spacingAndGlyphs" stroke="#fff" stroke-width="0.3" paint-order="fill stroke">100.26</text>
<text x="116.8" y="325.9" font-size="20.3" font-weight="bold" fill="#ff0000" text-anchor="start" textLength="66.1" lengthAdjust="spacingAndGlyphs" stroke="#fff" stroke-width="0.3" paint-order="fill stroke">100.00</text>
<text x="431.6" y="512.9" font-size="20.3" font-weight="bold" fill="#ff0000" text-anchor="start" textLength="54.2" lengthAdjust="spacingAndGlyphs" stroke="#fff" stroke-width="0.3" paint-order="fill stroke">96.00</text>
<text x="1061.3" y="514.6" font-size="20.3" font-weight="bold" fill="#ff0000" text-anchor="start" textLength="54.3" lengthAdjust="spacingAndGlyphs" stroke="#fff" stroke-width="0.3" paint-order="fill stroke">96.22</text>
<text x="1150.9" y="451.0" font-size="20.3" font-weight="bold" fill="#ff0000" text-anchor="start" textLength="54.8" lengthAdjust="spacingAndGlyphs" stroke="#fff" stroke-width="0.3" paint-order="fill stroke">97.50</text>
<text x="1242.6" y="348.7" font-size="25.2" font-weight="bold" fill="#ff0000" text-anchor="start" textLength="67.3" lengthAdjust="spacingAndGlyphs" stroke="#fff" stroke-width="0.3" paint-order="fill stroke">99.56</text>
<text x="1242.6" y="377.8" font-size="25.2" font-weight="bold" fill="#ff0000" text-anchor="start" textLength="67.3" lengthAdjust="spacingAndGlyphs" stroke="#fff" stroke-width="0.3" paint-order="fill stroke">99.00</text>
<text x="1242.6" y="402.5" font-size="25.2" font-weight="bold" fill="#ff0000" text-anchor="start" textLength="67.3" lengthAdjust="spacingAndGlyphs" stroke="#fff" stroke-width="0.3" paint-order="fill stroke">98.50</text>
<text x="1242.6" y="427.8" font-size="25.2" font-weight="bold" fill="#ff0000" text-anchor="start" textLength="67.3" lengthAdjust="spacingAndGlyphs" stroke="#fff" stroke-width="0.3" paint-order="fill stroke">98.00</text>
<text y="174.0" font-size="20" font-weight="bold" fill="#1c4587" stroke="#fff" stroke-width="0.3" paint-order="fill stroke"><tspan x="203.2" textLength="35.4" lengthAdjust="spacingAndGlyphs">21d</tspan> <tspan x="244.1" textLength="86.1" lengthAdjust="spacingAndGlyphs">weighted</tspan> <tspan x="335.6" textLength="29.4" lengthAdjust="spacingAndGlyphs">MA</tspan></text>
<text y="150.6" font-size="20" font-weight="bold" fill="#bf9000" stroke="#fff" stroke-width="0.3" paint-order="fill stroke"><tspan x="557.0" textLength="47.6" lengthAdjust="spacingAndGlyphs">233d</tspan> <tspan x="610.2" textLength="84.4" lengthAdjust="spacingAndGlyphs">weighted</tspan> <tspan x="700.8" textLength="30.1" lengthAdjust="spacingAndGlyphs">MA</tspan></text>
<text x="644.3" y="65.4" font-size="20" font-weight="bold" fill="#000" text-anchor="start" textLength="247.7" lengthAdjust="spacingAndGlyphs" stroke="#fff" stroke-width="0.3" paint-order="fill stroke">USD Index DXY Daily Chart</text>
<text y="63.4" font-size="20" font-weight="bold" fill="#000" stroke="#fff" stroke-width="0.3" paint-order="fill stroke"><tspan x="1097.2" textLength="30.5" lengthAdjust="spacingAndGlyphs">1-2</tspan> <tspan x="1132.5" textLength="34.1" lengthAdjust="spacingAndGlyphs">day</tspan> <tspan x="1171.0" textLength="46.4" lengthAdjust="spacingAndGlyphs">view</tspan></text>
<g fill="none" stroke="#1e5e20" stroke-width="6.9" stroke-linecap="round" stroke-linejoin="round">
<path d="M1249.3,74.9 L1271.6,50.8"/>
<path d="M1248.8,51.5 L1272.0,50.2 L1272.6,72.5"/>
</g>
<line x1="13" y1="598.5" x2="1329" y2="598.5" stroke="#ff0000" stroke-width="1" stroke-dasharray="1 2" shape-rendering="crispEdges"/>
<g shape-rendering="crispEdges" fill="#ff0000" fill-opacity="0.73">
<rect x="14" y="598" width="2" height="66"/>
<rect x="22" y="598" width="2" height="74"/>
<rect x="29" y="598" width="2" height="80"/>
<rect x="37" y="598" width="2" height="82"/>
<rect x="44" y="598" width="2" height="82"/>
<rect x="52" y="598" width="2" height="82"/>
<rect x="59" y="598" width="2" height="79"/>
<rect x="67" y="598" width="2" height="74"/>
<rect x="74" y="598" width="2" height="68"/>
<rect x="82" y="598" width="2" height="62"/>
<rect x="89" y="598" width="2" height="54"/>
<rect x="97" y="598" width="2" height="46"/>
<rect x="104" y="598" width="2" height="37"/>
<rect x="112" y="598" width="2" height="31"/>
<rect x="119" y="598" width="2" height="26"/>
<rect x="127" y="598" width="2" height="22"/>
<rect x="134" y="598" width="2" height="19"/>
<rect x="142" y="598" width="2" height="17"/>
<rect x="149" y="598" width="2" height="26"/>
<rect x="157" y="598" width="2" height="31"/>
<rect x="164" y="598" width="2" height="33"/>
<rect x="172" y="598" width="2" height="33"/>
<rect x="179" y="598" width="2" height="34"/>
<rect x="187" y="598" width="2" height="39"/>
<rect x="194" y="598" width="2" height="53"/>
<rect x="202" y="598" width="2" height="66"/>
<rect x="209" y="598" width="2" height="74"/>
<rect x="217" y="598" width="2" height="80"/>
<rect x="224" y="598" width="2" height="86"/>
<rect x="232" y="598" width="2" height="94"/>
<rect x="239" y="598" width="2" height="98"/>
<rect x="247" y="598" width="2" height="96"/>
<rect x="254" y="598" width="2" height="91"/>
<rect x="262" y="598" width="2" height="84"/>
<rect x="269" y="598" width="2" height="78"/>
<rect x="277" y="598" width="2" height="73"/>
<rect x="284" y="598" width="2" height="68"/>
<rect x="292" y="598" width="2" height="58"/>
<rect x="299" y="598" width="2" height="48"/>
<rect x="307" y="598" width="2" height="42"/>
<rect x="314" y="598" width="2" height="37"/>
<rect x="322" y="598" width="2" height="33"/>
<rect x="329" y="598" width="2" height="25"/>
<rect x="337" y="598" width="2" height="17"/>
<rect x="344" y="598" width="2" height="5"/>
<rect x="352" y="593" width="2" height="6"/>
<rect x="359" y="589" width="2" height="10"/>
<rect x="367" y="585" width="2" height="14"/>
<rect x="374" y="582" width="2" height="17"/>
<rect x="382" y="582" width="2" height="17"/>
<rect x="389" y="585" width="2" height="14"/>
<rect x="397" y="591" width="2" height="8"/>
<rect x="404" y="596" width="2" height="3"/>
<rect x="412" y="598" width="2" height="4"/>
<rect x="419" y="598" width="2" height="13"/>
<rect x="427" y="598" width="2" height="19"/>
<rect x="434" y="598" width="2" height="19"/>
<rect x="442" y="598" width="2" height="17"/>
<rect x="449" y="598" width="2" height="19"/>
<rect x="457" y="598" width="2" height="21"/>
<rect x="464" y="598" width="2" height="23"/>
<rect x="472" y="598" width="2" height="23"/>
<rect x="479" y="598" width="2" height="26"/>
<rect x="487" y="598" width="2" height="26"/>
<rect x="494" y="598" width="2" height="25"/>
<rect x="502" y="598" width="2" height="25"/>
<rect x="509" y="598" width="2" height="25"/>
<rect x="517" y="598" width="2" height="30"/>
<rect x="524" y="598" width="2" height="33"/>
<rect x="532" y="598" width="2" height="36"/>
<rect x="539" y="598" width="2" height="35"/>
<rect x="547" y="598" width="2" height="32"/>
<rect x="554" y="598" width="2" height="28"/>
<rect x="562" y="598" width="2" height="25"/>
<rect x="569" y="598" width="2" height="22"/>
<rect x="577" y="598" width="2" height="23"/>
<rect x="584" y="598" width="2" height="24"/>
<rect x="592" y="598" width="2" height="28"/>
<rect x="599" y="598" width="2" height="33"/>
<rect x="607" y="598" width="2" height="37"/>
<rect x="614" y="598" width="2" height="43"/>
<rect x="622" y="598" width="2" height="45"/>
<rect x="629" y="598" width="2" height="46"/>
<rect x="637" y="598" width="2" height="46"/>
<rect x="644" y="598" width="2" height="42"/>
<rect x="652" y="598" width="2" height="37"/>
<rect x="659" y="598" width="2" height="32"/>
<rect x="667" y="598" width="2" height="28"/>
<rect x="674" y="598" width="2" height="22"/>
<rect x="682" y="598" width="2" height="16"/>
<rect x="689" y="598" width="2" height="10"/>
<rect x="697" y="598" width="2" height="2"/>
<rect x="704" y="593" width="2" height="6"/>
<rect x="712" y="590" width="2" height="9"/>
<rect x="719" y="589" width="2" height="10"/>
<rect x="727" y="591" width="2" height="8"/>
<rect x="734" y="595" width="2" height="4"/>
<rect x="742" y="598" width="2" height="1"/>
<rect x="749" y="598" width="2" height="2"/>
<rect x="757" y="598" width="2" height="1"/>
<rect x="764" y="593" width="2" height="6"/>
<rect x="772" y="585" width="2" height="14"/>
<rect x="779" y="576" width="2" height="23"/>
<rect x="787" y="571" width="2" height="28"/>
<rect x="794" y="571" width="2" height="28"/>
<rect x="802" y="571" width="2" height="28"/>
<rect x="809" y="574" width="2" height="25"/>
<rect x="817" y="579" width="2" height="20"/>
<rect x="824" y="584" width="2" height="15"/>
<rect x="832" y="588" width="2" height="11"/>
<rect x="839" y="593" width="2" height="6"/>
<rect x="847" y="598" width="2" height="1"/>
<rect x="854" y="598" width="2" height="5"/>
<rect x="862" y="598" width="2" height="8"/>
<rect x="869" y="598" width="2" height="11"/>
<rect x="877" y="598" width="2" height="11"/>
<rect x="884" y="598" width="2" height="11"/>
<rect x="892" y="598" width="2" height="9"/>
<rect x="899" y="598" width="2" height="9"/>
<rect x="907" y="598" width="2" height="9"/>
<rect x="914" y="598" width="2" height="7"/>
<rect x="922" y="598" width="2" height="6"/>
<rect x="929" y="598" width="2" height="7"/>
<rect x="937" y="598" width="2" height="8"/>
<rect x="944" y="598" width="2" height="11"/>
<rect x="952" y="598" width="2" height="11"/>
<rect x="959" y="598" width="2" height="10"/>
<rect x="967" y="598" width="2" height="9"/>
<rect x="974" y="598" width="2" height="10"/>
<rect x="982" y="598" width="2" height="12"/>
<rect x="989" y="598" width="2" height="15"/>
<rect x="997" y="598" width="2" height="15"/>
<rect x="1004" y="598" width="2" height="15"/>
<rect x="1012" y="598" width="2" height="16"/>
<rect x="1019" y="598" width="2" height="17"/>
<rect x="1027" y="598" width="2" height="21"/>
<rect x="1034" y="598" width="2" height="25"/>
<rect x="1042" y="598" width="2" height="25"/>
<rect x="1049" y="598" width="2" height="22"/>
<rect x="1057" y="598" width="2" height="19"/>
<rect x="1064" y="598" width="2" height="17"/>
<rect x="1072" y="598" width="2" height="15"/>
<rect x="1079" y="598" width="2" height="8"/>
<rect x="1087" y="598" width="2" height="2"/>
<rect x="1094" y="596" width="2" height="3"/>
<rect x="1102" y="594" width="2" height="5"/>
<rect x="1109" y="594" width="2" height="5"/>
<rect x="1117" y="593" width="2" height="6"/>
<rect x="1124" y="593" width="2" height="6"/>
<rect x="1132" y="591" width="2" height="8"/>
<rect x="1139" y="588" width="2" height="11"/>
<rect x="1147" y="584" width="2" height="15"/>
<rect x="1154" y="578" width="2" height="21"/>
<rect x="1162" y="574" width="2" height="25"/>
<rect x="1169" y="571" width="2" height="28"/>
<rect x="1177" y="567" width="2" height="32"/>
<rect x="1184" y="566" width="2" height="33"/>
<rect x="1192" y="570" width="2" height="29"/>
<rect x="1199" y="574" width="2" height="25"/>
<rect x="1207" y="577" width="2" height="22"/>
<rect x="1214" y="579" width="2" height="20"/>
<rect x="1222" y="579" width="2" height="20"/>
<rect x="1229" y="579" width="2" height="20"/>
</g>
<path d="M13.9,662.5L22.4,671.4L30.2,677.7L38.0,679.9L45.9,679.9L52.6,679.7L60.4,677.0L67.2,672.5L75.0,666.9L82.8,660.2L89.5,652.8L97.4,644.5L105.2,635.6L113.0,628.9L120.9,624.0L127.6,620.4L135.4,616.6L142.6,615.0L150.0,623.3L157.8,628.9L165.7,630.7L172.4,630.7L180.2,632.2L188.0,636.7L194.8,650.1L202.6,663.6L210.4,671.9L218.3,678.1L225.0,683.1L232.8,692.0L240.6,696.5L248.5,693.8L255.2,688.9L263.0,681.5L270.9,675.9L278.7,671.0L286.5,664.7L293.3,655.1L301.1,645.7L308.9,639.6L315.6,635.1L323.5,631.1L330.1,623.3L337.9,615.4L345.7,603.1L352.5,593.5L360.3,589.3L368.1,585.2L376.0,581.9L383.4,582.3L390.5,584.6L398.4,591.5L406.2,596.4L412.9,602.0L420.7,611.0L428.1,616.6L435.3,617.2L443.1,615.4L451.0,616.6L458.8,619.2L465.5,620.6L473.3,621.0L480.1,624.0L487.9,624.0L495.7,623.3L503.6,623.3L510.3,623.3L518.1,627.8L526.0,631.1L532.7,633.8L540.5,632.9L548.3,630.0L555.1,626.2L562.9,623.3L570.3,619.9L577.4,621.0L585.3,622.2L593.1,626.2L599.8,630.7L607.7,634.5L615.5,640.7L622.2,643.0L630.0,644.1L637.9,644.1L645.6,640.1L653.4,634.5L661.3,630.0L668.0,625.5L675.8,619.9L683.7,613.7L690.4,607.6L698.2,599.8L704.9,593.1L712.8,589.7L720.6,588.6L728.4,590.8L735.1,594.8L743.0,598.0L749.7,599.8L757.5,598.7L765.4,593.1L773.2,585.2L779.9,576.9L787.8,571.3L795.6,571.1L802.3,570.7L810.1,574.0L818.0,579.2L825.8,584.1L832.5,588.1L840.4,592.6L848.2,598.7L854.9,602.7L862.7,606.0L870.6,608.7L877.3,609.2L885.1,608.7L893.0,607.2L899.7,606.9L907.5,606.9L915.3,605.4L923.2,603.8L929.9,604.7L937.7,606.0L945.6,608.7L953.4,608.7L960.1,607.6L967.8,606.5L974.6,607.6L982.4,609.8L990.2,612.8L998.1,612.8L1004.8,613.2L1012.6,613.7L1020.4,615.0L1027.2,618.8L1035.0,623.3L1042.8,623.3L1050.7,619.9L1058.5,616.6L1065.2,615.4L1073.1,612.8L1080.9,605.4L1088.7,599.8L1095.4,596.4L1103.3,594.2L1111.1,593.5L1117.8,593.1L1125.7,593.1L1132.4,590.8L1140.2,588.1L1148.0,583.7L1154.8,578.5L1162.6,574.0L1170.4,570.7L1178.3,566.6L1185.0,566.2L1192.8,569.6L1200.7,574.0L1208.5,576.9L1215.2,578.5L1223.0,579.2L1230.4,579.2" fill="none" stroke="#ff0000" stroke-opacity="0.72" stroke-width="2.3" stroke-linejoin="round" stroke-linecap="round"/>
<path d="M13.9,649.0C15.3,650.9 19.1,656.7 22.4,660.2C25.7,663.8 29.9,667.6 33.6,670.3C37.3,673.0 41.4,675.2 44.8,676.6C48.1,678.0 50.4,678.4 53.7,678.6C57.1,678.8 61.2,678.7 64.9,677.7C68.6,676.7 72.0,675.2 76.1,672.5C80.2,669.8 84.7,666.0 89.5,661.3C94.3,656.6 100.0,649.5 105.2,644.5C110.4,639.5 116.1,634.8 120.9,631.1C125.8,627.4 130.6,624.3 134.3,622.2C138.0,620.1 140.3,618.7 143.3,618.4C146.3,618.1 148.5,619.1 152.2,620.4C155.9,621.7 161.2,624.7 165.7,626.2C170.2,627.7 175.4,628.2 179.1,629.3C182.8,630.4 185.0,630.9 188.0,632.9C191.0,634.9 193.3,636.8 197.0,641.2C200.7,645.6 205.9,653.5 210.4,659.1C214.9,664.7 219.4,670.1 223.9,674.8C228.4,679.5 233.2,684.3 237.3,687.1C241.4,689.9 245.2,691.1 248.5,691.6C251.8,692.1 254.0,691.5 257.4,690.4C260.8,689.3 264.1,687.6 268.6,684.8C273.1,682.0 279.5,677.7 284.3,673.6C289.1,669.5 292.9,665.1 297.7,660.2C302.5,655.4 309.7,647.9 313.4,644.5C317.1,641.1 315.9,643.1 320.0,640.1C324.1,637.1 332.3,631.8 337.9,626.2C343.5,620.6 348.6,612.2 353.6,606.5C358.6,600.8 364.0,595.3 368.1,591.9C372.2,588.5 374.6,587.3 378.2,585.9C381.8,584.5 385.3,583.2 389.4,583.7C393.5,584.2 398.3,586.3 402.8,588.6C407.3,590.9 412.2,594.3 416.3,597.5C420.4,600.7 424.1,605.4 427.5,608.0C430.9,610.6 432.7,611.9 436.4,613.2C440.1,614.6 444.9,615.2 449.8,616.1C454.7,617.0 459.1,617.8 465.5,618.8C471.9,619.8 480.4,621.5 487.9,622.2C495.4,622.9 504.7,622.1 510.3,622.8C515.9,623.5 516.6,625.0 521.5,626.6C526.4,628.2 533.8,631.7 539.4,632.2C545.0,632.7 549.9,630.9 555.1,629.5C560.3,628.1 565.9,625.2 570.7,623.9C575.6,622.6 579.4,621.3 584.2,621.7C589.1,622.1 594.6,624.0 599.8,626.2C605.0,628.4 610.6,632.6 615.5,635.1C620.4,637.6 625.2,639.9 628.9,641.2C632.6,642.5 634.2,642.9 637.9,642.8C641.6,642.7 646.4,642.3 651.2,640.5C656.0,638.7 661.7,635.5 666.9,632.2C672.1,629.0 677.3,625.3 682.5,621.0C687.7,616.7 693.4,610.6 698.2,606.5C703.1,602.4 707.5,598.9 711.6,596.4C715.7,593.9 719.1,592.4 722.8,591.5C726.5,590.6 730.3,590.8 734.0,591.3C737.7,591.8 741.5,593.2 745.2,594.2C748.9,595.2 752.3,596.9 756.4,597.1C760.5,597.3 765.3,597.5 769.8,595.3C774.3,593.1 778.8,587.5 783.3,584.1C787.8,580.7 793.0,577.0 796.7,575.1C800.4,573.2 802.3,572.9 805.7,572.5C809.1,572.1 812.8,571.8 816.9,572.9C821.0,574.0 825.4,576.4 830.3,579.2C835.1,582.0 841.1,586.3 846.0,589.7C850.9,593.1 855.3,597.2 859.4,599.8C863.5,602.4 866.9,604.0 870.6,605.4C874.3,606.8 877.3,607.8 881.8,608.1C886.3,608.4 892.9,607.4 897.4,607.2C901.9,607.0 904.1,607.3 908.6,606.9C913.1,606.5 919.1,605.0 924.3,604.9C929.5,604.8 935.1,606.0 940.0,606.5C944.9,607.0 948.2,607.9 953.4,608.1C958.6,608.3 965.6,607.3 971.2,607.6C976.8,607.9 981.3,609.0 986.9,609.8C992.5,610.6 999.2,611.8 1004.8,612.5C1010.4,613.2 1015.5,613.2 1020.4,614.3C1025.2,615.3 1029.8,617.7 1033.9,618.8C1038.0,619.9 1041.0,620.8 1045.1,621.0C1049.2,621.2 1054.0,620.5 1058.5,619.9C1063.0,619.3 1067.8,618.5 1071.9,617.2C1076.0,615.9 1079.4,614.2 1083.1,612.1C1086.8,610.0 1090.6,606.7 1094.3,604.3C1098.0,601.9 1101.8,599.1 1105.5,597.5C1109.2,595.9 1112.6,595.5 1116.7,594.8C1120.8,594.1 1125.6,594.1 1130.1,593.1C1134.6,592.1 1139.1,590.9 1143.6,589.0C1148.1,587.1 1152.5,584.3 1157.0,581.9C1161.5,579.5 1166.3,576.8 1170.4,574.7C1174.5,572.7 1178.2,570.7 1181.6,569.6C1185.0,568.5 1187.2,568.2 1190.6,568.4C1194.0,568.6 1198.1,569.7 1201.8,570.7C1205.5,571.7 1209.7,573.5 1213.0,574.5C1216.3,575.5 1219.0,576.3 1221.9,576.9C1224.8,577.5 1229.0,577.9 1230.4,578.1" fill="none" stroke="#0000ff" stroke-opacity="0.7" stroke-width="2.5" stroke-linejoin="round" stroke-linecap="round"/>
<text y="576.4" font-size="20" font-weight="bold" fill="#000" stroke="#fff" stroke-width="0.3" paint-order="fill stroke"><tspan x="32.6" textLength="72.3" lengthAdjust="spacingAndGlyphs">Tension</tspan> <tspan x="110.3" textLength="83.7" lengthAdjust="spacingAndGlyphs">Indicator</tspan></text>
<clipPath id="tb"><rect x="394.4" y="212.2" width="64.7" height="21.3"/><rect x="814.4" y="295.4" width="64.7" height="21.3"/><rect x="116.8" y="309.7" width="66.1" height="21.3"/><rect x="431.6" y="496.7" width="54.2" height="21.3"/><rect x="1061.3" y="498.4" width="54.3" height="21.3"/><rect x="1150.9" y="434.8" width="54.8" height="21.3"/><rect x="1242.6" y="328.5" width="67.3" height="26.5"/><rect x="1242.6" y="357.6" width="67.3" height="26.5"/><rect x="1242.6" y="382.3" width="67.3" height="26.5"/><rect x="1242.6" y="407.6" width="67.3" height="26.5"/><rect x="204.2" y="158.0" width="159.3" height="21.0"/><rect x="558.0" y="134.6" width="171.4" height="21.0"/><rect x="644.3" y="49.4" width="247.7" height="21.0"/><rect x="1098.2" y="47.4" width="117.7" height="21.0"/><rect x="33.6" y="560.4" width="158.9" height="21.0"/></clipPath>
<g shape-rendering="crispEdges" fill="#e0ebf3" fill-opacity="0.8" clip-path="url(#tb)">
<rect x="135" y="34" width="1" height="516"/>
<rect x="135" y="551" width="1" height="159"/>
<rect x="293" y="34" width="1" height="516"/>
<rect x="293" y="551" width="1" height="159"/>
<rect x="458" y="34" width="1" height="516"/>
<rect x="458" y="551" width="1" height="159"/>
<rect x="615" y="34" width="1" height="516"/>
<rect x="615" y="551" width="1" height="159"/>
<rect x="788" y="34" width="1" height="516"/>
<rect x="788" y="551" width="1" height="159"/>
<rect x="945" y="34" width="1" height="516"/>
<rect x="945" y="551" width="1" height="159"/>
<rect x="1110" y="34" width="1" height="516"/>
<rect x="1110" y="551" width="1" height="159"/>
<rect x="1283" y="34" width="1" height="516"/>
<rect x="1283" y="551" width="1" height="159"/>
<rect x="13" y="120" width="1316" height="1"/>
<rect x="13" y="219" width="1316" height="1"/>
<rect x="13" y="319" width="1316" height="1"/>
<rect x="13" y="419" width="1316" height="1"/>
<rect x="13" y="518" width="1316" height="1"/>
</g>
<rect x="1329" y="34" width="1" height="731" fill="#4a4e5e" shape-rendering="crispEdges"/>
<rect x="13" y="710" width="1448" height="1" fill="#4a4e5e" shape-rendering="crispEdges"/>
<path d="M1330,316 H1428 Q1430,316 1430,318 V349 Q1430,351 1428,351 H1330 Z" fill="#bf9000"/>
<text x="1345.4" y="341.9" font-size="24" font-weight="normal" fill="#ffffff" text-anchor="start" textLength="75.8" lengthAdjust="spacingAndGlyphs" stroke="#fff" stroke-width="0.35">99.618</text>
<path d="M1330,351 H1428 Q1430,351 1430,353 V384 Q1430,386 1428,386 H1330 Z" fill="#6aa84f"/>
<text x="1345.4" y="376.9" font-size="24" font-weight="normal" fill="#ffffff" text-anchor="start" textLength="75.8" lengthAdjust="spacingAndGlyphs" stroke="#fff" stroke-width="0.35">99.017</text>
<path d="M1330,386 H1428 Q1430,386 1430,388 V419 Q1430,421 1428,421 H1330 Z" fill="#3c40a8"/>
<text x="1345.4" y="411.9" font-size="24" font-weight="normal" fill="#ffffff" text-anchor="start" textLength="75.8" lengthAdjust="spacingAndGlyphs" stroke="#fff" stroke-width="0.35">98.686</text>
<rect x="1334.5" y="39.5" width="122" height="31" rx="4" ry="4" fill="#fff" stroke="#e9ebf0" stroke-width="1"/>
<text x="1345.4" y="59.6" font-size="14" font-weight="normal" fill="#131722" text-anchor="start" textLength="25.6" lengthAdjust="spacingAndGlyphs">USD</text>
<text x="135.7" y="743.0" font-size="24.5" font-weight="bold" fill="#000" text-anchor="middle" textLength="40.8" lengthAdjust="spacingAndGlyphs" stroke="#fff" stroke-width="0.3" paint-order="fill stroke">Apr</text>
<text x="293.0" y="743.0" font-size="24.5" font-weight="bold" fill="#000" text-anchor="middle" textLength="45.4" lengthAdjust="spacingAndGlyphs" stroke="#fff" stroke-width="0.3" paint-order="fill stroke">May</text>
<text x="457.8" y="743.0" font-size="24.5" font-weight="bold" fill="#000" text-anchor="middle" textLength="41.6" lengthAdjust="spacingAndGlyphs" stroke="#fff" stroke-width="0.3" paint-order="fill stroke">Jun</text>
<text x="615.2" y="743.0" font-size="24.5" font-weight="bold" fill="#000" text-anchor="middle" textLength="33.7" lengthAdjust="spacingAndGlyphs" stroke="#fff" stroke-width="0.3" paint-order="fill stroke">Jul</text>
<text x="788.0" y="743.0" font-size="24.5" font-weight="bold" fill="#000" text-anchor="middle" textLength="44.0" lengthAdjust="spacingAndGlyphs" stroke="#fff" stroke-width="0.3" paint-order="fill stroke">Aug</text>
<text x="945.5" y="743.0" font-size="24.5" font-weight="bold" fill="#000" text-anchor="middle" textLength="40.8" lengthAdjust="spacingAndGlyphs" stroke="#fff" stroke-width="0.3" paint-order="fill stroke">Sep</text>
<text x="1110.5" y="743.0" font-size="24.5" font-weight="bold" fill="#000" text-anchor="middle" textLength="40.0" lengthAdjust="spacingAndGlyphs" stroke="#fff" stroke-width="0.3" paint-order="fill stroke">Oct</text>
<text x="1283.0" y="743.0" font-size="24.5" font-weight="bold" fill="#000" text-anchor="middle" textLength="43.0" lengthAdjust="spacingAndGlyphs" stroke="#fff" stroke-width="0.3" paint-order="fill stroke">Nov</text>
<text y="24.6" font-size="14" fill="#131722"><tspan x="13.4" textLength="149.5" lengthAdjust="spacingAndGlyphs">Continuum_Economics</tspan> <tspan x="167.8" textLength="51.2" lengthAdjust="spacingAndGlyphs">created</tspan> <tspan x="224.9" textLength="28.5" lengthAdjust="spacingAndGlyphs">with</tspan> <tspan x="259.8" textLength="115.7" lengthAdjust="spacingAndGlyphs">TradingView.com,</tspan> <tspan x="381.4" textLength="21.7" lengthAdjust="spacingAndGlyphs">Oct</tspan> <tspan x="410.2" textLength="19.3" lengthAdjust="spacingAndGlyphs">23,</tspan> <tspan x="435.6" textLength="30.0" lengthAdjust="spacingAndGlyphs">2025</tspan> <tspan x="471.9" textLength="35.4" lengthAdjust="spacingAndGlyphs">08:58</tspan> <tspan x="513.4" textLength="40.6" lengthAdjust="spacingAndGlyphs">UTC+1</tspan></text>
<g fill="#141414">
<path d="M15.4,792.3 H30.3 V810.9 H23 V800.2 H15.4 Z"/>
<circle cx="36.9" cy="796.2" r="3.9"/>
<path d="M44.0,792.3 H52.75 L45.8,810.9 H37.3 Z"/>
</g>
<text x="62.1" y="810.9" font-size="25.5" font-weight="bold" fill="#141414" text-anchor="start" textLength="151.0" lengthAdjust="spacingAndGlyphs">TradingView</text>
</svg></body></html>
